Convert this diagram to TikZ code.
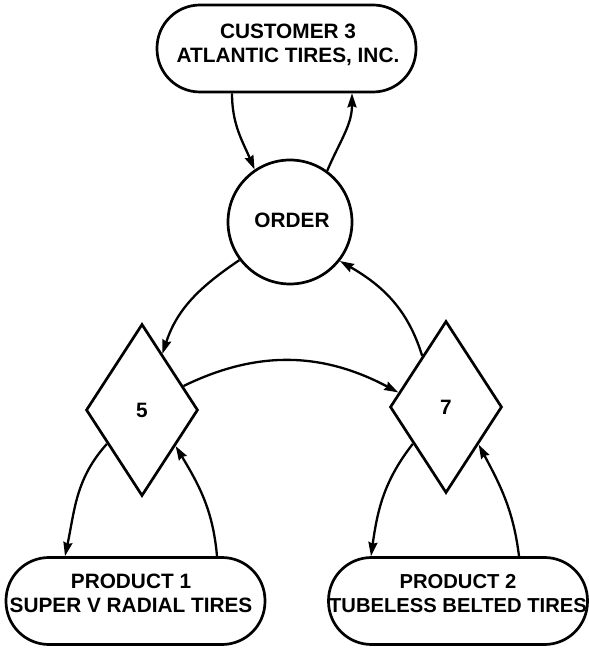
\documentclass[tikz,border=0pt]{standalone}
\usepackage{fontspec}
\setmainfont{Liberation Sans}
\usetikzlibrary{shapes.geometric,arrows.meta}

\begin{document}
\begin{tikzpicture}[x=1pt,y=1pt,
  line width=2.7pt,
  lbl/.style={font=\bfseries\fontsize{20.8}{24}\selectfont, align=center, inner sep=0pt},
  capsule/.style={draw, rectangle, rounded corners=43pt, minimum width=259pt, minimum height=87pt, inner sep=0pt},
  decision/.style={draw, diamond, minimum width=112pt, minimum height=172pt, inner sep=0pt},
  event/.style={draw, circle, minimum size=124pt, inner sep=0pt},
  flow/.style={line width=2.3pt, -{Stealth[length=14pt,width=9pt,inset=1.5pt]}},
]
\useasboundingbox (0,0) rectangle (589,649);

% entities
\node[capsule] (cust) at (286.5,600.5) {};
\node[lbl] (custtext) at (288,604) {CUSTOMER 3\\ATLANTIC TIRES, INC.};

\node[event] (order) at (290,427) {};
\node[lbl] (ordertext) at (292,429) {ORDER};

\node[decision] (d5) at (142,239) {};
\node[lbl] (d5text) at (142,239) {5};

\node[decision] (d7) at (446,242) {};
\node[lbl] (d7text) at (446,242) {7};

\node[capsule] (p1) at (135.5,48) {};
\node[lbl] (p1text) at (131,55.5) {PRODUCT 1\\SUPER V RADIAL TIRES};

\node[capsule] (p2) at (458,48) {};
\node[lbl, font=\bfseries\fontsize{20.2}{24}\selectfont] (p2text) at (458,55.5) {PRODUCT 2\\TUBELESS BELTED TIRES};

% relationships
\draw[flow] ([xshift=-54.5pt]cust.south) to[out=-90,in=113] (order.124);
\draw[flow] (order.54) to[out=67,in=-90] ([xshift=65.5pt]cust.south);

\draw[flow] (order.-143) to[out=-146,in=72] (d5.70);
\draw[flow] (d7.115) to[out=107,in=-30] (order.-38);

\draw[flow] (d5.30) to[out=26,in=152] (d7.163);

\draw[flow] (d5.-136) to[out=-132,in=78] ([xshift=-70.5pt]p1.north);
\draw[flow] ([xshift=81.5pt]p1.north) to[out=95,in=-59] (d5.-47);

\draw[flow] (d7.-132) to[out=-128,in=82] ([xshift=-87pt]p2.north);
\draw[flow] ([xshift=61pt]p2.north) to[out=97,in=-62] (d7.-49);
\end{tikzpicture}
\end{document}
